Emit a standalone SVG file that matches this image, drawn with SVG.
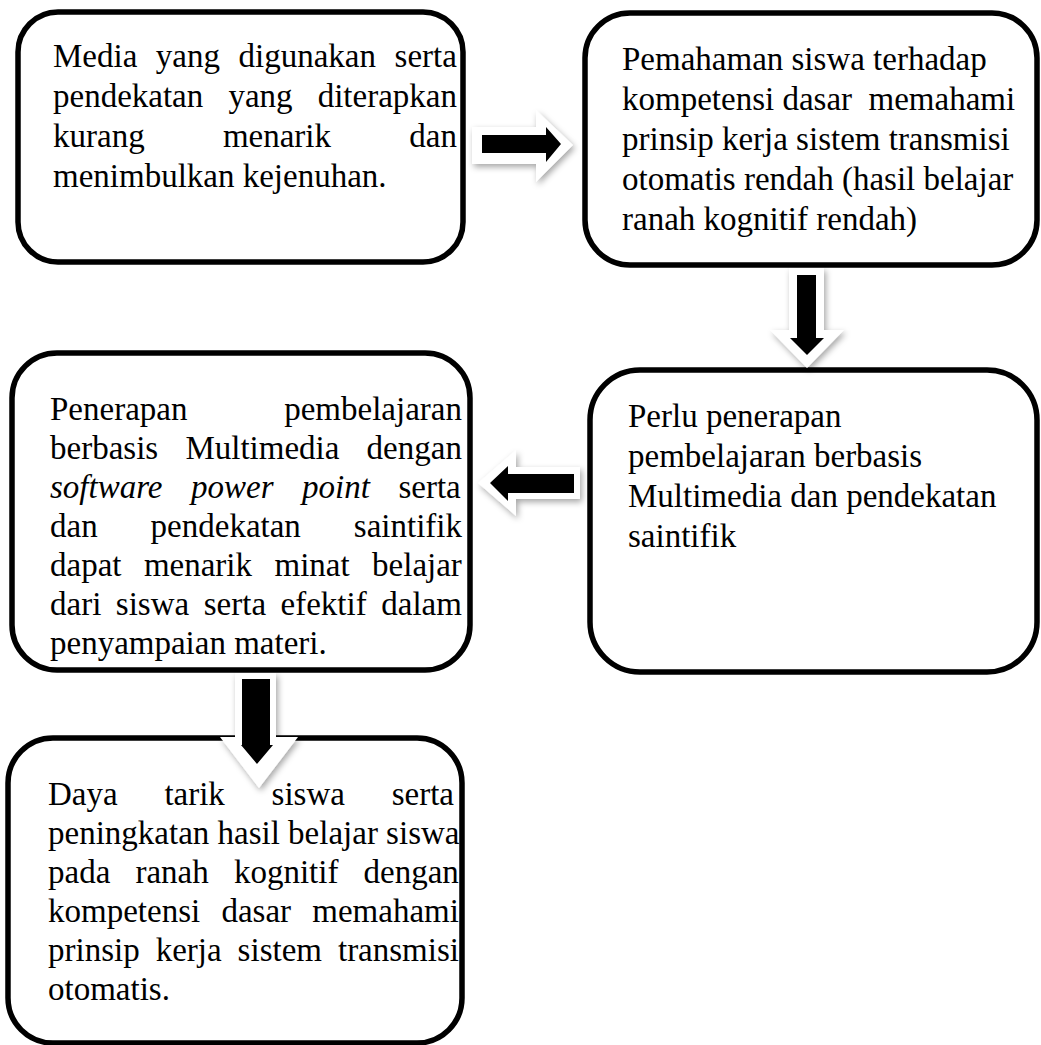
<svg xmlns="http://www.w3.org/2000/svg" width="1041" height="1045" viewBox="0 0 1041 1045">
<defs>
<filter id="sh" x="-30%" y="-30%" width="160%" height="160%">
<feDropShadow dx="2" dy="3" stdDeviation="3" flood-color="#000" flood-opacity="0.35"/>
</filter>
</defs>
<style>
.box{fill:#fff;stroke:#000;stroke-width:5.5}
text{font-family:"Liberation Serif","Times New Roman",serif;font-size:33px;fill:#000}
.w{fill:#fff;filter:url(#sh)}
.b{fill:#000}
</style>
<rect width="1041" height="1045" fill="#fff"/>
<g id="node1">
<rect class="box" x="18" y="12" width="445" height="250" rx="40"/>
<text x="53" y="67" style="word-spacing:10.3px">Media yang digunakan serta</text>
<text x="53" y="107" style="word-spacing:16.9px">pendekatan yang diterapkan</text>
<text x="53" y="147" style="word-spacing:70px">kurang menarik dan</text>
<text x="53" y="187">menimbulkan kejenuhan.</text>
</g>
<g id="node2">
<rect class="box" x="585" y="13" width="452" height="252" rx="45"/>
<text x="622" y="70">Pemahaman siswa terhadap</text>
<text x="622" y="110" xml:space="preserve">kompetensi dasar  memahami</text>
<text x="622" y="150">prinsip kerja sistem transmisi</text>
<text x="622" y="190">otomatis rendah (hasil belajar</text>
<text x="622" y="230">ranah kognitif rendah)</text>
</g>
<g id="node3">
<rect class="box" x="590" y="370" width="447" height="302" rx="50"/>
<text x="628" y="427">Perlu penerapan</text>
<text x="628" y="467">pembelajaran berbasis</text>
<text x="628" y="507">Multimedia dan pendekatan</text>
<text x="628" y="547">saintifik</text>
</g>
<g id="node4">
<rect class="box" x="12" y="353" width="458" height="317" rx="45"/>
<text x="50" y="420" style="word-spacing:88.5px">Penerapan pembelajaran</text>
<text x="50" y="459" style="word-spacing:19px">berbasis Multimedia dengan</text>
<text x="50" y="498" style="word-spacing:20.3px"><tspan font-style="italic">software power point</tspan> serta</text>
<text x="50" y="537" style="word-spacing:44.7px">dan pendekatan saintifik</text>
<text x="50" y="576" style="word-spacing:14.2px">dapat menarik minat belajar</text>
<text x="50" y="615" style="word-spacing:6.3px">dari siswa serta efektif dalam</text>
<text x="50" y="654">penyampaian materi.</text>
</g>
<g id="node5">
<rect class="box" x="8" y="738" width="454" height="305" rx="45"/>
<text x="48" y="805" style="word-spacing:38.5px">Daya tarik siswa serta</text>
<text x="48" y="844">peningkatan hasil belajar siswa</text>
<text x="48" y="883" style="word-spacing:16.9px">pada ranah kognitif dengan</text>
<text x="48" y="922" style="word-spacing:13px">kompetensi dasar memahami</text>
<text x="48" y="961" style="word-spacing:7.75px">prinsip kerja sistem transmisi</text>
<text x="48" y="1000">otomatis.</text>
</g>
<g id="connectors">
<g id="arrow1">
<polygon class="w" points="472,127 536,127 536,110 573,145 536,182 536,164 472,164"/>
<polygon class="b" points="482,135 546,135 546,127 561,144 546,162 546,153 482,153"/>
</g>
<g id="arrow2">
<polygon class="w" points="789,268 824,268 824,330 844,330 807,368 770,330 789,330"/>
<polygon class="b" points="797,275 816,275 816,338 824,338 807,355 790,338 797,338"/>
</g>
<g id="arrow3">
<polygon class="w" points="580,467 516,467 516,450 478,483 516,516 516,499 580,499"/>
<polygon class="b" points="574,474 508,474 508,466 490,483 508,501 508,493 574,493"/>
</g>
<g id="arrow4">
<polygon class="w" points="235,673 276,673 276,737 298,737 259,788 220,737 235,737"/>
<polygon class="b" points="242,679 270,679 270,745 273,745 257,764 241,745 242,745"/>
</g>
</g>
</svg>
